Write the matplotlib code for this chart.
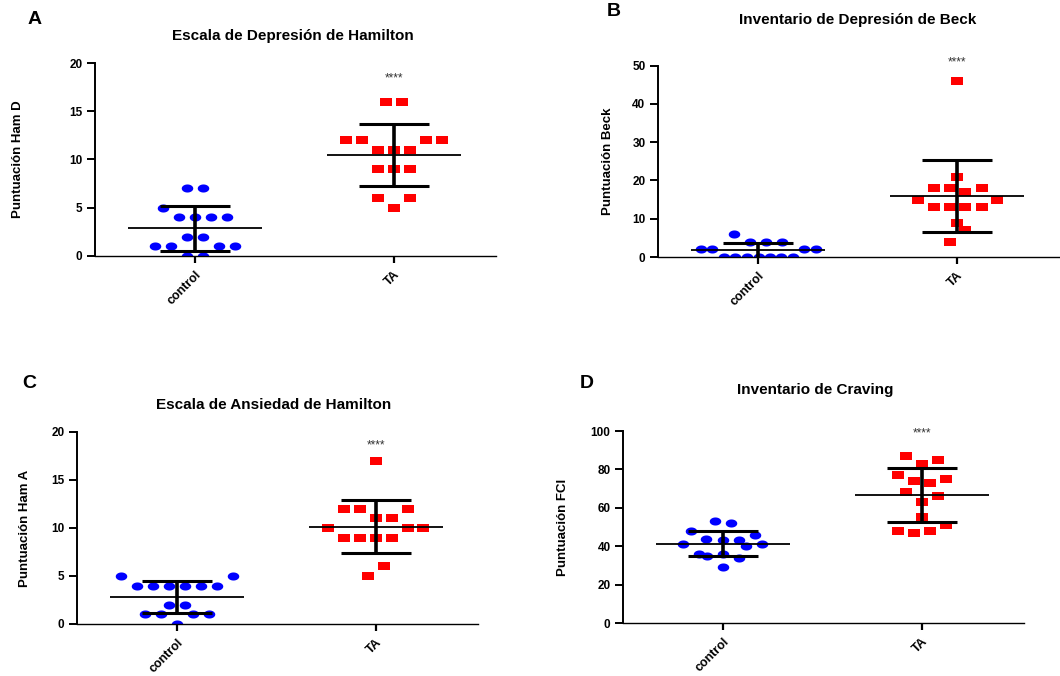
import numpy as np
import matplotlib
matplotlib.use('Agg')
import matplotlib.pyplot as plt
from matplotlib.path import Path

plt.rcParams['font.family'] = ['Liberation Sans', 'DejaVu Sans']

groups = ['control', 'TA']

# Panel A - Escala de Depresion de Hamilton
hamd_ctrl = [7, 7, 5, 4, 4, 4, 4, 2, 2, 1, 1, 1, 1, 0, 0]
hamd_ctrl_dx = [-8, 8, -32, -16, 0, 16, 32, -8, 8, -40, -24, 24, 40, -8, 8]
hamd_ta = [16, 16, 12, 12, 12, 12, 11, 11, 11, 9, 9, 9, 6, 6, 5]
hamd_ta_dx = [-8, 8, -48, -32, 32, 48, -16, 0, 16, -16, 0, 16, -16, 16, 0]

# Panel B - Inventario de Depresion de Beck
beck_ctrl = [6, 4, 4, 4, 2, 2, 2, 2, 0, 0, 0, 0, 0, 0, 0]
beck_ctrl_dx = [-24, -8, 8, 24, -57, -46, 46, 58, -34, -23, -11, 1, 12, 23, 35]
beck_ta = [46, 21, 18, 18, 18, 17, 15, 15, 13, 13, 13, 13, 9, 7, 4]
beck_ta_dx = [0, 0, -23, -7, 25, 8, -39, 40, -23, -7, 8, 25, 0, 8, -7]

# Panel C - Escala de Ansiedad de Hamilton
hama_ctrl = [5, 5, 4, 4, 4, 4, 4, 4, 2, 2, 1, 1, 1, 1, 0]
hama_ctrl_dx = [-56, 56, -40, -24, -8, 8, 24, 40, -8, 8, -32, -16, 16, 32, 0]
hama_ta = [17, 12, 12, 12, 11, 11, 10, 10, 10, 9, 9, 9, 9, 6, 5]
hama_ta_dx = [0, -32, -16, 32, 0, 16, -48, 32, 47, -32, -16, 0, 16, 8, -8]

# Panel D - Inventario de Craving
fci_ctrl = [53, 52, 48, 46, 44, 43, 43, 41, 41, 40, 36, 35, 36, 34, 29]
fci_ctrl_dx = [-8, 8, -32, 32, -17, 0, 16, -40, 39, 23, -24, -16, 0, 16, 0]
fci_ta = [87, 85, 83, 77, 75, 74, 73, 68, 66, 63, 55, 51, 48, 47, 48]
fci_ta_dx = [-16, 16, 0, -24, 24, -8, 8, -16, 16, 0, 0, 24, -24, -8, 8]

panels = [
    ('A', 'Escala de Depresión de Hamilton', 'Puntuación Ham D', 20, 5, 18.4,
     hamd_ctrl, hamd_ctrl_dx, hamd_ta, hamd_ta_dx),
    ('B', 'Inventario de Depresión de Beck', 'Puntuación Beck', 50, 10, 50.8,
     beck_ctrl, beck_ctrl_dx, beck_ta, beck_ta_dx),
    ('C', 'Escala de Ansiedad de Hamilton', 'Puntuación Ham A', 20, 5, 18.6,
     hama_ctrl, hama_ctrl_dx, hama_ta, hama_ta_dx),
    ('D', 'Inventario de Craving', 'Puntuación FCI', 100, 20, 98.5,
     fci_ctrl, fci_ctrl_dx, fci_ta, fci_ta_dx),
]

# axes rectangles in pixels (left, top, right, bottom), figure is 1060x676
W, H = 1060., 676.
boxes = [(95, 63, 496, 256), (658, 65.7, 1059, 257),
         (77, 432, 478, 624), (623, 431, 1024, 623)]
ylabel_x = [-0.177, -0.11, -0.115, -0.135]
letter_pos = [(28, 20), (607, 11), (22, 384), (580, 384)]
title_pos = [(293, 36), (858, 20), (274, 405), (815, 390)]

# stretched markers like the original (wider than tall)
t = np.linspace(0, 2 * np.pi, 60)
ellipse = Path(np.column_stack([np.cos(t), 0.7 * np.sin(t)]), closed=True)
rect = Path([(-1, -0.7), (1, -0.7), (1, 0.7), (-1, 0.7), (-1, -0.7)], closed=True)

px_per_unit = 199.0

fig = plt.figure(figsize=(10.6, 6.76), dpi=100)

for i, (letter, title, ylab, ymax, ystep, star_y,
        c_vals, c_dx, t_vals, t_dx) in enumerate(panels):
    l, tp, r, b = boxes[i]
    ax = fig.add_axes([l / W, 1 - b / H, (r - l) / W, (b - tp) / H])

    for k, (vals, dx, mk, col) in enumerate([(c_vals, c_dx, ellipse, '#0000FF'),
                                             (t_vals, t_dx, rect, '#FF0000')]):
        vals = np.array(vals, dtype=float)
        xs = k + np.array(dx) / px_per_unit
        ax.plot(xs, vals, linestyle='', marker=mk, markersize=8.3,
                color=col, markeredgewidth=0, zorder=2)
        m = vals.mean()
        sd = vals.std(ddof=1)
        ax.hlines(m, k - 0.335, k + 0.335, color='black', linewidth=1.3, zorder=3)
        ax.hlines([m - sd, m + sd], k - 0.175, k + 0.175, color='black',
                  linewidth=2.2, zorder=3)
        ax.vlines(k, m - sd, m + sd, color='black', linewidth=2.6, zorder=3)

    ax.text(1, star_y, '****', ha='center', va='center', fontsize=8.5,
            color='#333333', clip_on=False)

    ax.set_xlim(-0.5025, 1.513)
    ax.set_ylim(0, ymax)
    ax.set_xticks([0, 1])
    ax.set_xticklabels(groups, rotation=45, ha='right', rotation_mode='anchor',
                       fontsize=9, fontweight='bold')
    ax.set_yticks(np.arange(0, ymax + 1, ystep))
    ax.set_yticklabels([str(v) for v in np.arange(0, ymax + 1, ystep)],
                       fontsize=8.5, fontweight='bold')

    ax.spines['right'].set_color('none')
    ax.spines['top'].set_color('none')
    ax.spines['left'].set_linewidth(1.4)
    ax.spines['bottom'].set_linewidth(1.0)
    ax.tick_params(axis='y', direction='out', length=6, width=1.4, pad=3)
    ax.tick_params(axis='x', direction='out', length=5, width=1.6, pad=4)

    ax.set_ylabel(ylab, fontsize=9.5, fontweight='bold')
    ax.yaxis.set_label_coords(ylabel_x[i], 0.5)

    lx, ly = letter_pos[i]
    fig.text(lx / W, 1 - ly / H, letter, fontsize=14, fontweight='bold',
             ha='left', va='center')
    tx, ty = title_pos[i]
    fig.text(tx / W, 1 - ty / H, title, fontsize=11, fontweight='bold',
             ha='center', va='center')

plt.savefig('out.png', dpi=100)
